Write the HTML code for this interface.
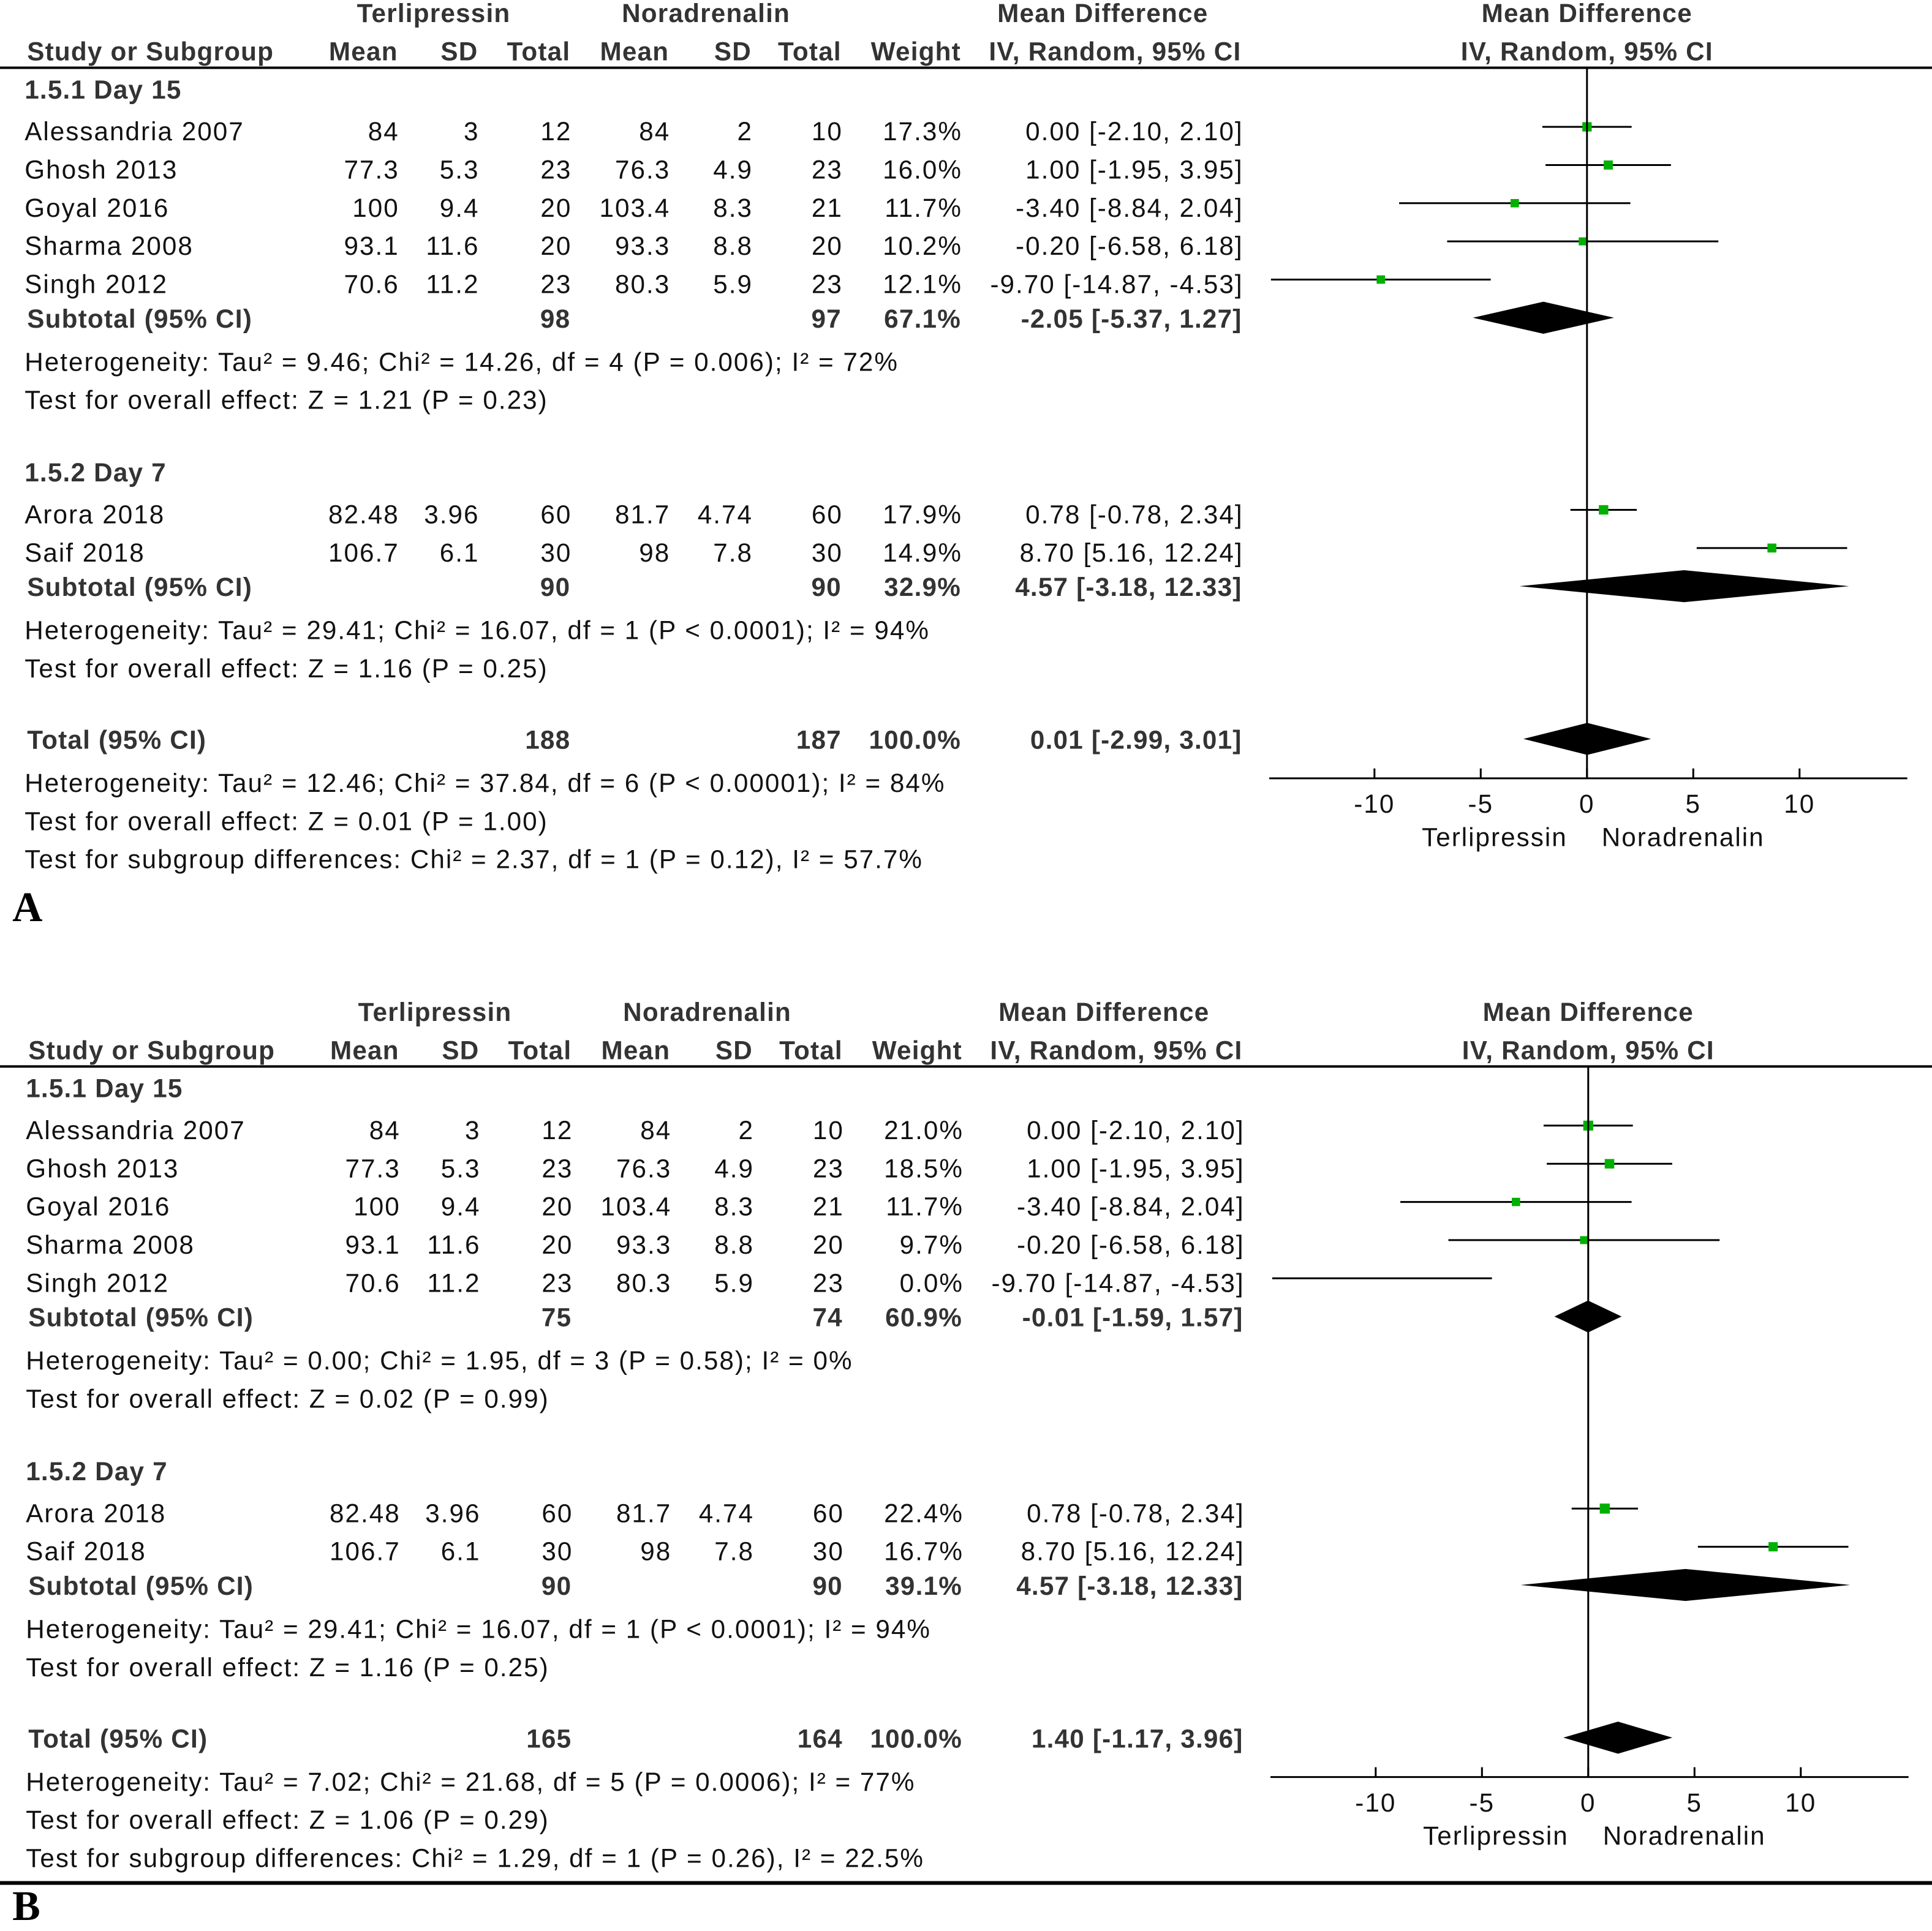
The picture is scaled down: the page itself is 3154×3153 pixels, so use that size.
<!DOCTYPE html>
<html><head><meta charset="utf-8">
<style>
html,body{margin:0;padding:0;background:#fff;}
svg{display:block;}
text{font-family:"Liberation Sans",Arial,sans-serif;font-size:21px;fill:#111;letter-spacing:1px;}
.b{font-weight:bold;fill:#333;letter-spacing:0.6px;}
</style></head>
<body>
<svg id="chart" width="3154" height="3153" viewBox="0 0 1568 1568" preserveAspectRatio="none" xmlns="http://www.w3.org/2000/svg"></svg>
<script>
// ---- data ----
const studyNames = ["Alessandria 2007","Ghosh 2013","Goyal 2016","Sharma 2008","Singh 2012","Arora 2018","Saif 2018"];
const studyGroup = [1,1,1,1,1,2,2];
const tMean = ["84","77.3","100","93.1","70.6","82.48","106.7"];
const tSD = ["3","5.3","9.4","11.6","11.2","3.96","6.1"];
const tN = ["12","23","20","20","23","60","30"];
const nMean = ["84","76.3","103.4","93.3","80.3","81.7","98"];
const nSD = ["2","4.9","8.3","8.8","5.9","4.74","7.8"];
const nN = ["10","23","21","20","23","60","30"];
const md = [0.00,1.00,-3.40,-0.20,-9.70,0.78,8.70];
const mdLo = [-2.10,-1.95,-8.84,-6.58,-14.87,-0.78,5.16];
const mdHi = [2.10,3.95,2.04,6.18,-4.53,2.34,12.24];
const weightsA = [17.3,16.0,11.7,10.2,12.1,17.9,14.9];
const weightsB = [21.0,18.5,11.7,9.7,0.0,22.4,16.7];
// subtotals: [est, lo, hi]
const sub1A = [-2.05,-5.37,1.27], sub2A = [4.57,-3.18,12.33], totA = [0.01,-2.99,3.01];
const sub1B = [-0.01,-1.59,1.57], sub2B = [4.57,-3.18,12.33], totB = [1.40,-1.17,3.96];
const subNA = [["98","97","67.1%"],["90","90","32.9%"],["188","187","100.0%"]];
const subNB = [["75","74","60.9%"],["90","90","39.1%"],["165","164","100.0%"]];
const hetA = ["Heterogeneity: Tau\u00b2 = 9.46; Chi\u00b2 = 14.26, df = 4 (P = 0.006); I\u00b2 = 72%","Test for overall effect: Z = 1.21 (P = 0.23)",
  "Heterogeneity: Tau\u00b2 = 29.41; Chi\u00b2 = 16.07, df = 1 (P < 0.0001); I\u00b2 = 94%","Test for overall effect: Z = 1.16 (P = 0.25)",
  "Heterogeneity: Tau\u00b2 = 12.46; Chi\u00b2 = 37.84, df = 6 (P < 0.00001); I\u00b2 = 84%","Test for overall effect: Z = 0.01 (P = 1.00)",
  "Test for subgroup differences: Chi\u00b2 = 2.37, df = 1 (P = 0.12), I\u00b2 = 57.7%"];
const hetB = ["Heterogeneity: Tau\u00b2 = 0.00; Chi\u00b2 = 1.95, df = 3 (P = 0.58); I\u00b2 = 0%","Test for overall effect: Z = 0.02 (P = 0.99)",
  "Heterogeneity: Tau\u00b2 = 29.41; Chi\u00b2 = 16.07, df = 1 (P < 0.0001); I\u00b2 = 94%","Test for overall effect: Z = 1.16 (P = 0.25)",
  "Heterogeneity: Tau\u00b2 = 7.02; Chi\u00b2 = 21.68, df = 5 (P = 0.0006); I\u00b2 = 77%","Test for overall effect: Z = 1.06 (P = 0.29)",
  "Test for subgroup differences: Chi\u00b2 = 1.29, df = 1 (P = 0.26), I\u00b2 = 22.5%"];
const tickVals = [-10,-5,0,5,10];
const tickLabels = ["-10","-5","0","5","10"];

const svg = document.getElementById('chart');
const NS = "http://www.w3.org/2000/svg";
function mk(tag, attrs, txt){const e=document.createElementNS(NS,tag);for(const k in attrs)e.setAttribute(k,attrs[k]);if(txt!==undefined)e.textContent=txt;svg.appendChild(e);return e;}
function fmt(v){return v.toFixed(2);}
function ci(e,l,h){return fmt(e)+" ["+fmt(l)+", "+fmt(h)+"]";}

function panel(dy, dx, weights, subs, subN, het, letter){
  const X = v => 1288 + dx + v*17.25;
  const Y = y => y + dy;
  const cols = [323,388,463,543,610,683,780];
  const base = 7;
  let t;
  [["Terlipressin",352],["Noradrenalin",573],["Mean Difference",895],["Mean Difference",1288]].forEach(h=>{
    t=mk('text',{x:h[1]+dx,y:Y(18),'text-anchor':'middle',class:'b'},h[0]);
    
    
  });
  t=mk('text',{x:22+dx,y:Y(49),class:'b'},"Study or Subgroup");
  
  
  ["Mean","SD","Total","Mean","SD","Total","Weight"].forEach((h,i)=>{
    t=mk('text',{x:cols[i]+dx,y:Y(49),'text-anchor':'end',class:'b'},h);
    
    
  });
  t=mk('text',{x:905+dx,y:Y(49),'text-anchor':'middle',class:'b'},"IV, Random, 95% CI");
  
  
  t=mk('text',{x:1288+dx,y:Y(49),'text-anchor':'middle',class:'b'},"IV, Random, 95% CI");
  
  
  let ln=mk('line',{x1:0,x2:1568,y1:Y(55),y2:Y(55),stroke:'#000','stroke-width':2});
  
  
  t=mk('text',{x:20+dx,y:Y(80),class:'b'},"1.5.1 Day 15");
  
  
  t=mk('text',{x:20+dx,y:Y(391),class:'b'},"1.5.2 Day 7");
  
  
  const rowY = [107,138,169,200,231,418,449];
  studyNames.forEach((nm,i)=>{
    const y=Y(rowY[i]);
    const ty=y+base;
    t=mk('text',{x:20+dx,y:ty},nm);
    
    
    [tMean[i],tSD[i],tN[i],nMean[i],nSD[i],nN[i],weights[i].toFixed(1)+"%"].forEach((v,j)=>{
      t=mk('text',{x:cols[j]+dx+1,y:ty,'text-anchor':'end'},v);
      
      
    });
    t=mk('text',{x:1009+dx,y:ty,'text-anchor':'end'},ci(md[i],mdLo[i],mdHi[i]));
    
    
    const yl=y-4;
    ln=mk('line',{x1:X(Math.max(mdLo[i],-14.95)),x2:X(Math.min(mdHi[i],14.95)),y1:yl,y2:yl,stroke:'#000','stroke-width':1.5});
    
    
    if(weights[i]>0){
      const s = 3 + Math.sqrt(weights[i])*1.1;
      const r=mk('rect',{x:X(md[i])-s/2,y:yl-s/2,width:s,height:s,fill:'#00b000'});
      
      
    }
  });
  const sy=[259,477,601];
  const sl=["Subtotal (95% CI)","Subtotal (95% CI)","Total (95% CI)"];
  subs.forEach((s,k)=>{
    const y=Y(sy[k]);
    t=mk('text',{x:22+dx,y:y+base,class:'b'},sl[k]);
    
    
    [[463,subN[k][0]],[683,subN[k][1]],[780,subN[k][2]],[1008,ci(s[0],s[1],s[2])]].forEach(c=>{
      t=mk('text',{x:c[0]+dx,y:y+base,'text-anchor':'end',class:'b'},c[1]);
      
      
    });
    const yd=y-1;
    const p=mk('polygon',{points:`${X(s[1])},${yd} ${X(s[0])},${yd-13} ${X(s[2])},${yd} ${X(s[0])},${yd+13}`,fill:'#000'});
    
    
  });
  const hy=[294,325,512,543,636,667,698];
  het.forEach((h,k)=>{
    t=mk('text',{x:20+dx,y:Y(hy[k])+base},h);
    
    
  });
  ln=mk('line',{x1:X(0),x2:X(0),y1:Y(55),y2:Y(632),stroke:'#000','stroke-width':1.5});
  
  
  ln=mk('line',{x1:X(-14.95),x2:X(15.07),y1:Y(632),y2:Y(632),stroke:'#000','stroke-width':1.5});
  
  
  tickVals.forEach((v,k)=>{
    ln=mk('line',{x1:X(v),x2:X(v),y1:Y(624),y2:Y(632),stroke:'#000','stroke-width':1.5});
    
    
    t=mk('text',{x:X(v),y:Y(660),'text-anchor':'middle'},tickLabels[k]);
    
    
  });
  t=mk('text',{x:1213+dx,y:Y(687),'text-anchor':'middle'},"Terlipressin");
  
  
  t=mk('text',{x:1366+dx,y:Y(687),'text-anchor':'middle'},"Noradrenalin");
  
  
  t=mk('text',{x:10,y:Y(748),style:'font-family:"Liberation Serif",serif;font-size:34px;font-weight:bold;fill:#000;letter-spacing:0'},letter);
  
  
}
panel(0,0,weightsA,[sub1A,sub2A,totA],subNA,hetA,"A");
panel(811,1,weightsB,[sub1B,sub2B,totB],subNB,hetB,"B");
const bl=mk('line',{x1:0,x2:1568,y1:1529,y2:1529,stroke:'#000','stroke-width':3});


</script>
</body></html>
